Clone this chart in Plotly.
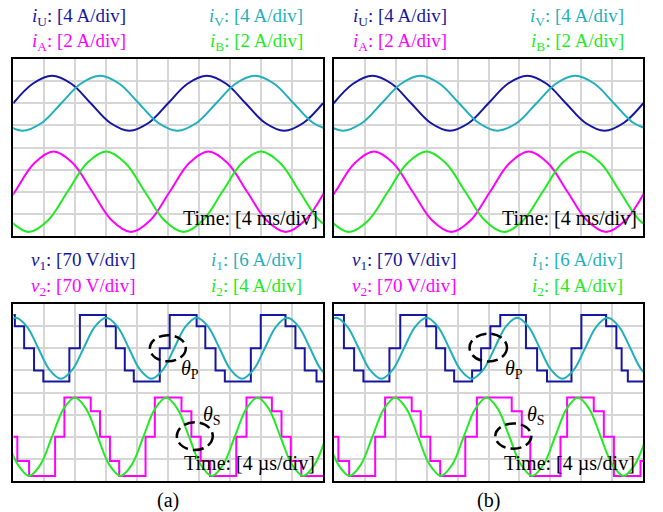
import plotly.graph_objects as go

# ---------------- data (x in ms or µs, y in screen divisions, screen = -4..4) -------------
# Top panels (identical in (a) and (b)), time in ms
TOP_IU_T = [0, 2.5, 5, 7.5, 10, 12.5, 15, 17.5, 20, 22.5, 25, 27.5, 30, 32.5, 35, 37.5, 40]
TOP_IU_Y = [2.0, 2.88, 3.24, 2.88, 2.0, 1.12, 0.76, 1.12, 2.0, 2.88, 3.24, 2.88, 2.0, 1.12, 0.76, 1.12, 2.0]
TOP_IV_T = [-1.3, 1.2, 3.7, 6.2, 8.7, 11.2, 13.7, 16.2, 18.7, 21.2, 23.7, 26.2, 28.7, 31.2, 33.7, 36.2, 38.7, 41.2]
TOP_IV_Y = [1.12, 0.76, 1.12, 2.0, 2.88, 3.24, 2.88, 2.0, 1.12, 0.76, 1.12, 2.0, 2.88, 3.24, 2.88, 2.0, 1.12, 0.76]
TOP_IA_T = [-2.3, 0.2, 2.7, 5.2, 7.7, 10.2, 12.7, 15.2, 17.7, 20.2, 22.7, 25.2, 27.7, 30.2, 32.7, 35.2, 37.7, 40.2]
TOP_IA_Y = [-3.29, -2.0, -0.71, -0.18, -0.71, -2.0, -3.29, -3.82, -3.29, -2.0, -0.71, -0.18, -0.71, -2.0, -3.29, -3.82, -3.29, -2.0]
TOP_IB_T = [-0.5, 2, 4.5, 7, 9.5, 12, 14.5, 17, 19.5, 22, 24.5, 27, 29.5, 32, 34.5, 37, 39.5, 42]
TOP_IB_Y = [-3.29, -3.82, -3.29, -2.0, -0.71, -0.18, -0.71, -2.0, -3.29, -3.82, -3.29, -2.0, -0.71, -0.18, -0.71, -2.0, -3.29, -3.82]

# Bottom panels, time in µs
I1_T = [-1.16, 0.3, 1.76, 3.23, 4.69, 6.15, 7.61, 9.08, 10.54, 12.0, 13.46, 14.93, 16.39, 17.85, 19.31,
        20.78, 22.24, 23.7, 25.16, 26.63, 28.09, 29.55, 31.01, 32.48, 33.94, 35.4, 36.86, 38.33, 39.79, 41.25]
I1_Y = [2.98, 3.38, 2.98, 2.0, 1.02, 0.62, 1.02, 2.0, 2.98, 3.38, 2.98, 2.0, 1.02, 0.62, 1.02,
        2.0, 2.98, 3.38, 2.98, 2.0, 1.02, 0.62, 1.02, 2.0, 2.98, 3.38, 2.98, 2.0, 1.02, 0.62]
I2_T = [-0.9, 0.575, 2.05, 3.525, 5.0, 6.475, 7.95, 9.425, 10.9, 12.375, 13.85, 15.325, 16.8, 18.275, 19.75,
        21.225, 22.7, 24.175, 25.65, 27.125, 28.6, 30.075, 31.55, 33.025, 34.5, 35.975, 37.45, 38.925, 40.4]
I2_Y = [-2.0, -3.25, -3.77, -3.25, -2.0, -0.75, -0.23, -0.75, -2.0, -3.25, -3.77, -3.25, -2.0, -0.75, -0.23,
        -0.75, -2.0, -3.25, -3.77, -3.25, -2.0, -0.75, -0.23, -0.75, -2.0, -3.25, -3.77, -3.25, -2.0]

V1A_T = [0, 0.2, 1.4, 2.68, 3.88, 7.24, 8.6, 11.96, 13.24, 14.4, 15.56, 18.92, 20.2, 23.68, 24.8, 26.12,
         27.32, 30.68, 31.96, 35.16, 36.44, 37.64, 39.16, 40]
V1A_Y = [3.5, 3.0, 2.0, 1.0, 0.5, 2.0, 3.5, 3.0, 2.0, 1.0, 0.5, 2.0, 3.5, 3.0, 2.0, 1.0,
         0.5, 2.0, 3.5, 3.0, 2.0, 1.0, 0.5, 0.5]
V2A_T = [0, 0.52, 2.04, 5.4, 6.6, 10.0, 11.2, 12.48, 13.68, 17.08, 18.28, 21.72, 23.0, 24.2, 25.4, 28.8,
         30.12, 33.4, 34.64, 35.84, 37.2, 40]
V2A_Y = [-2.0, -3.1, -3.77, -2.0, -0.23, -0.85, -2.0, -3.1, -3.77, -2.0, -0.23, -0.85, -2.0, -3.1, -3.77, -2.0,
         -0.23, -0.85, -2.0, -3.1, -3.77, -3.77]

V1B_T = [0, 1.32, 2.64, 3.84, 7.2, 8.6, 11.96, 13.24, 14.4, 15.56, 17.88, 19.04, 20.24, 21.52, 24.84, 26.28,
         27.56, 30.72, 32.0, 35.2, 36.52, 37.2, 38.0, 40]
V1B_Y = [3.5, 2.0, 1.0, 0.5, 2.0, 3.5, 3.0, 2.0, 1.0, 0.5, 1.0, 2.0, 3.0, 3.5, 2.0, 1.0,
         0.5, 2.0, 3.5, 3.0, 2.0, 1.0, 0.5, 0.5]
V2B_T = [0, 0.6, 2.0, 5.36, 6.64, 10.08, 11.24, 12.48, 13.76, 17.0, 18.5, 23.0, 24.3, 25.4, 29.3,
         30.16, 33.6, 34.9, 36.2, 39.64, 40]
V2B_Y = [-2.0, -3.1, -3.77, -2.0, -0.23, -0.85, -2.0, -3.1, -3.77, -2.0, -0.23, -0.85, -2.0, -3.77, -2.0,
         -0.23, -0.85, -2.0, -3.77, -3.1, -3.1]

# theta markers: (centre x, centre y, half-width, half-height, label centre x, label centre y) in axis units
THETA_A = {"P": (19.96, 2.0, 2.32, 0.59, 22.8, 1.04), "S": (23.44, -1.97, 2.32, 0.63, 25.6, -1.06)}
THETA_B = {"P": (19.97, 2.03, 2.42, 0.63, 23.3, 1.02), "S": (23.21, -1.97, 2.33, 0.57, 26.1, -1.06)}

NAVY = "#1616a0"
TEAL = "#1fb0bb"
MAG = "#ff00ff"
GRN = "#22ea22"
SERIF = "Liberation Serif"

fig = go.Figure()

# axis ids: 1 = top-left, 2 = top-right, 3 = bottom-left, 4 = bottom-right
def add(t, y, color, ax, shape="spline"):
    fig.add_trace(go.Scatter(x=t, y=y, mode="lines", xaxis="x" + ("" if ax == 1 else str(ax)),
                             yaxis="y" + ("" if ax == 1 else str(ax)),
                             line=dict(color=color, width=2, shape=shape, smoothing=1),
                             showlegend=False, hoverinfo="skip"))

for ax in (1, 2):
    add(TOP_IU_T, TOP_IU_Y, NAVY, ax)
    add(TOP_IV_T, TOP_IV_Y, TEAL, ax)
    add(TOP_IA_T, TOP_IA_Y, MAG, ax)
    add(TOP_IB_T, TOP_IB_Y, GRN, ax)

add(V1A_T, V1A_Y, NAVY, 3, "hv")
add(I1_T, I1_Y, TEAL, 3)
add(V2A_T, V2A_Y, MAG, 3, "hv")
add(I2_T, I2_Y, GRN, 3)

add(V1B_T, V1B_Y, NAVY, 4, "hv")
add(I1_T, I1_Y, TEAL, 4)
add(V2B_T, V2B_Y, MAG, 4, "hv")
add(I2_T, I2_Y, GRN, 4)

W, H = 663, 512
xd_left = [13.3 / W, 323.0 / W]
xd_right = [333.7 / W, 643.3 / W]
yd_top = [1 - 236.0 / H, 1 - 59.0 / H]
yd_bot = [1 - 481.0 / H, 1 - 304.0 / H]

def xax(domain, anchor):
    return dict(domain=domain, anchor=anchor, range=[0, 40], dtick=4, tick0=0, showgrid=True,
                gridcolor="#d6d6d6", gridwidth=1.5, zeroline=False, showticklabels=False, ticks="",
                showline=True, mirror=True, linecolor="black", linewidth=2, fixedrange=True)

def yax(domain, anchor):
    return dict(domain=domain, anchor=anchor, range=[-4, 4], dtick=1, tick0=0, showgrid=True,
                gridcolor="#d6d6d6", gridwidth=1.5, zeroline=False, showticklabels=False, ticks="",
                showline=True, mirror=True, linecolor="black", linewidth=2, fixedrange=True)

fig.update_layout(
    width=W, height=H, margin=dict(l=0, r=0, t=0, b=0),
    paper_bgcolor="white", plot_bgcolor="white",
    xaxis=xax(xd_left, "y"), yaxis=yax(yd_top, "x"),
    xaxis2=xax(xd_right, "y2"), yaxis2=yax(yd_top, "x2"),
    xaxis3=xax(xd_left, "y3"), yaxis3=yax(yd_bot, "x3"),
    xaxis4=xax(xd_right, "y4"), yaxis4=yax(yd_bot, "x4"),
)

ann = []
def txt(text, x, y, color, size=20, xref="paper", yref="paper"):
    ann.append(dict(text=text, x=x, y=y, xref=xref, yref=yref, xanchor="center", yanchor="middle",
                    showarrow=False, font=dict(family=SERIF, size=size, color=color)))

# legends (centre positions)
LS = 19
for off in (0, 321):
    txt("<i>i</i><sub>U</sub>: [4 A/div]", (79 + off) / W, 1 - 17 / H, NAVY, LS)
    txt("<i>i</i><sub>A</sub>: [2 A/div]", (79 + off) / W, 1 - 42 / H, MAG, LS)
    txt("<i>i</i><sub>V</sub>: [4 A/div]", (256 + off) / W, 1 - 17 / H, TEAL, LS)
    txt("<i>i</i><sub>B</sub>: [2 A/div]", (256 + off) / W, 1 - 42 / H, GRN, LS)
    txt("<i>v</i><sub>1</sub>: [70 V/div]", (83 + off) / W, 1 - 261 / H, NAVY, LS)
    txt("<i>v</i><sub>2</sub>: [70 V/div]", (83 + off) / W, 1 - 287 / H, MAG, LS)
    txt("<i>i</i><sub>1</sub>: [6 A/div]", (256 + off) / W, 1 - 261 / H, TEAL, LS)
    txt("<i>i</i><sub>2</sub>: [4 A/div]", (256 + off) / W, 1 - 287 / H, GRN, LS)

# time base labels
txt("Time: [4 ms/div]", 250 / W, 1 - 218 / H, "black")
txt("Time: [4 ms/div]", 569 / W, 1 - 218 / H, "black")
txt("Time: [4 µs/div]", 249 / W, 1 - 463 / H, "black")
txt("Time: [4 µs/div]", 569 / W, 1 - 463 / H, "black")

# sub-figure labels
txt("(a)", 168 / W, 1 - 500 / H, "black")
txt("(b)", 488 / W, 1 - 500 / H, "black")

shapes = []
for ax, th in ((3, THETA_A), (4, THETA_B)):
    for key, (cx, cy, rx, ry, lx, ly) in th.items():
        shapes.append(dict(type="circle", xref="x%d" % ax, yref="y%d" % ax,
                           x0=cx - rx, x1=cx + rx, y0=cy - ry, y1=cy + ry,
                           line=dict(color="black", width=2.5, dash="11px,5px")))
        txt("<i>θ</i><sub>%s</sub>" % key, lx, ly, "black", 20, xref="x%d" % ax, yref="y%d" % ax)

fig.update_layout(annotations=ann, shapes=shapes)
fig.write_html("out.html")
